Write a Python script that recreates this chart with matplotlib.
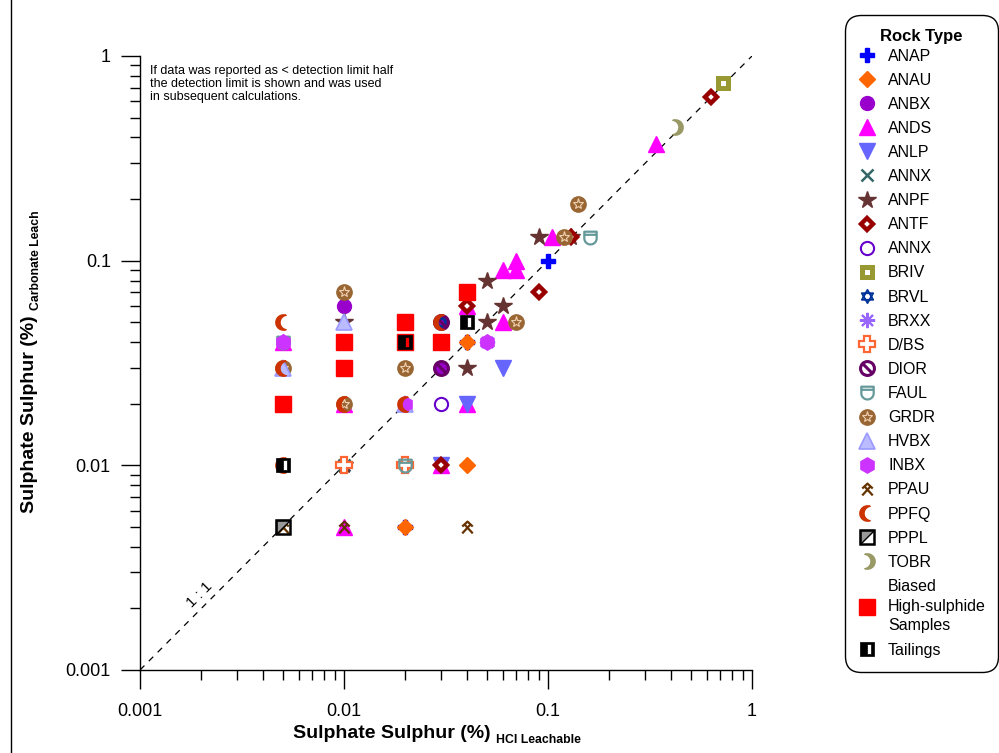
import matplotlib
matplotlib.use("Agg")
import matplotlib.pyplot as plt
import numpy as np
from matplotlib.path import Path
from matplotlib.lines import Line2D
from matplotlib.legend_handler import HandlerTuple
from matplotlib.ticker import FixedLocator, FuncFormatter, NullFormatter

plt.rcParams['font.family'] = ['Liberation Sans', 'DejaVu Sans']

# ---- data: sulphate S, HCl leachable (x) vs carbonate leach (y), in % ----
rock_types = ["ANAP", "ANAU", "ANBX", "ANDS", "ANLP", "ANNX", "ANPF", "ANTF",
              "ANNX", "BRIV", "BRVL", "BRXX", "D/BS", "DIOR", "FAUL", "GRDR",
              "HVBX", "INBX", "PPAU", "PPFQ", "PPPL", "TOBR",
              "Biased\nHigh-sulphide\nSamples", "Tailings"]

anap_x = [0.1, 0.03, 0.04, 0.02]
anap_y = [0.1, 0.05, 0.04, 0.005]
anau_x = [0.04, 0.04, 0.02]
anau_y = [0.04, 0.01, 0.005]
anbx_x = [0.01, 0.03, 0.03]
anbx_y = [0.06, 0.03, 0.05]
ands_x = [0.34, 0.105, 0.07, 0.07, 0.06, 0.06, 0.04, 0.005, 0.01, 0.04, 0.03, 0.01]
ands_y = [0.37, 0.13, 0.1, 0.09, 0.09, 0.05, 0.06, 0.04, 0.02, 0.02, 0.01, 0.005]
anlp_x = [0.06, 0.04, 0.03]
anlp_y = [0.03, 0.02, 0.01]
annx_x = [0.01]
annx_y = [0.01]
anpf_x = [0.09, 0.05, 0.06, 0.05, 0.04, 0.01, 0.13, 0.01]
anpf_y = [0.13, 0.08, 0.06, 0.05, 0.03, 0.05, 0.13, 0.01]
antf_x = [0.63, 0.09, 0.04, 0.03, 0.13]
antf_y = [0.63, 0.07, 0.06, 0.01, 0.13]
annx2_x = [0.03]
annx2_y = [0.02]
briv_x = [0.72]
briv_y = [0.74]
brvl_x = [0.03]
brvl_y = [0.05]
brxx_x = [0.05]
brxx_y = [0.04]
dbs_x = [0.01, 0.02]
dbs_y = [0.01, 0.01]
dior_x = [0.03, 0.03]
dior_y = [0.03, 0.05]
faul_x = [0.16, 0.005, 0.02]
faul_y = [0.13, 0.04, 0.01]
grdr_x = [0.14, 0.12, 0.07, 0.01, 0.02, 0.005, 0.01]
grdr_y = [0.19, 0.13, 0.05, 0.07, 0.03, 0.03, 0.02]
hvbx_x = [0.01, 0.005, 0.02]
hvbx_y = [0.05, 0.03, 0.02]
inbx_x = [0.05, 0.005, 0.02]
inbx_y = [0.04, 0.04, 0.02]
ppau_x = [0.005, 0.01, 0.04]
ppau_y = [0.005, 0.005, 0.005]
ppfq_x = [0.005, 0.005, 0.01, 0.02, 0.005, 0.03]
ppfq_y = [0.05, 0.03, 0.02, 0.02, 0.01, 0.05]
pppl_x = [0.005]
pppl_y = [0.005]
tobr_x = [0.42]
tobr_y = [0.45]
biased_x = [0.04, 0.02, 0.01, 0.03, 0.02, 0.01, 0.005]
biased_y = [0.07, 0.05, 0.04, 0.04, 0.04, 0.03, 0.02]
tail_x = [0.04, 0.02, 0.005]
tail_y = [0.05, 0.04, 0.01]

series = [(anap_x, anap_y), (anau_x, anau_y), (anbx_x, anbx_y), (ands_x, ands_y),
          (anlp_x, anlp_y), (annx_x, annx_y), (anpf_x, anpf_y), (antf_x, antf_y),
          (annx2_x, annx2_y), (briv_x, briv_y), (brvl_x, brvl_y), (brxx_x, brxx_y),
          (dbs_x, dbs_y), (dior_x, dior_y), (faul_x, faul_y), (grdr_x, grdr_y),
          (hvbx_x, hvbx_y), (inbx_x, inbx_y), (ppau_x, ppau_y), (ppfq_x, ppfq_y),
          (pppl_x, pppl_y), (tobr_x, tobr_y), (biased_x, biased_y), (tail_x, tail_y)]


# ---- custom marker shapes ----
def crescent(flip=False):
    a = np.radians(np.linspace(70, 290, 30))
    outer = np.column_stack([np.cos(a), np.sin(a)])
    b = np.radians(np.linspace(260.5, 99.5, 30))
    inner = np.column_stack([0.5 + 0.953 * np.cos(b), 0.953 * np.sin(b)])
    v = np.vstack([outer, inner, outer[:1]])
    if flip:
        v[:, 0] *= -1
    return Path(v, closed=True)


def shield():
    a = np.radians(np.linspace(180, 360, 20))
    bottom = np.column_stack([0.8 * np.cos(a), -0.1 + 0.8 * np.sin(a)])
    v = np.vstack([[[-0.8, 0.75]], bottom, [[0.8, 0.75]], [[-0.8, 0.75]]])
    body = Path(v, closed=True)
    bar = Path([[-0.8, 0.35], [0.8, 0.35]])
    return Path.make_compound_path(body, bar)


def no_sign():
    return Path.make_compound_path(Path.circle((0, 0), 0.85),
                                   Path([[-0.6, 0.6], [0.6, -0.6]]))


def star_of_david():
    a1 = np.radians([90, 210, 330, 90])
    a2 = np.radians([270, 30, 150, 270])
    t1 = Path(np.column_stack([np.cos(a1), np.sin(a1)]), closed=True)
    t2 = Path(np.column_stack([np.cos(a2), np.sin(a2)]), closed=True)
    return Path.make_compound_path(t1, t2)


def pick():
    codes = [Path.MOVETO, Path.LINETO, Path.LINETO,
             Path.MOVETO, Path.LINETO, Path.MOVETO, Path.LINETO]
    v = [[-0.8, 0.15], [0, 0.9], [0.8, 0.15],
         [-0.8, -0.9], [0.35, 0.35], [0.8, -0.9], [-0.35, 0.35]]
    return Path(v, codes)


def tailings_box():
    v = [[-1, -1], [1, -1], [1, 1], [-1, 1], [-1, -1],
         [0.0, -0.65], [0.0, 0.65], [0.6, 0.65], [0.6, -0.65], [0.0, -0.65]]
    codes = [Path.MOVETO, Path.LINETO, Path.LINETO, Path.LINETO, Path.CLOSEPOLY] * 2
    return Path(v, codes)


half_tri = Path([[-1, -1], [-1, 1], [1, 1], [-1, -1]], closed=True)

ms = 10
styles = [
    [dict(marker='P', ms=ms, color='#0000FF', mec='#0000FF')],
    [dict(marker='D', ms=ms - 1.5, color='#FF6600', mec='#FF6600')],
    [dict(marker='o', ms=ms, color='#9900CC', mec='#9900CC')],
    [dict(marker='^', ms=ms + 1, color='#FF00FF', mec='#FF00FF')],
    [dict(marker='v', ms=ms + 1, color='#6666FF', mec='#6666FF')],
    [dict(marker='x', ms=ms - 1.5, color='#336666', mew=1.8)],
    [dict(marker='*', ms=ms + 3, color='#663333', mec='#663333')],
    [dict(marker='D', ms=ms - 3.5, mfc='white', mec='#990000', mew=3.2)],
    [dict(marker='o', ms=ms - 0.5, mfc='none', mec='#6600CC', mew=1.5)],
    [dict(marker='s', ms=ms - 2.5, mfc='white', mec='#999933', mew=3.6)],
    [dict(marker=star_of_david(), ms=ms - 0.5, mfc='none', mec='#003399', mew=1.3)],
    [dict(marker=(8, 2, 0), ms=ms + 1, color='#9966FF', mew=1.5)],
    [dict(marker='P', ms=ms + 1, mfc='white', mec='#FF6633', mew=1.6)],
    [dict(marker=no_sign(), ms=ms, mfc='none', mec='#660066', mew=2.2)],
    [dict(marker=shield(), ms=ms, mfc='none', mec='#669999', mew=1.6)],
    [dict(marker='o', ms=ms + 1, color='#996633', mec='#996633'),
     dict(marker='*', ms=ms - 2, mfc='none', mec='#F0D0B0', mew=0.8)],
    [dict(marker='^', ms=ms + 1, mfc='#BBBBFF', mec='#9999FF', mew=1.2)],
    [dict(marker='h', ms=ms + 1, color='#CC33FF', mec='#CC33FF')],
    [dict(marker=pick(), ms=ms - 1.5, mfc='none', mec='#663300', mew=1.6)],
    [dict(marker=crescent(), ms=ms + 1, color='#CC3300', mec='#CC3300')],
    [dict(marker=half_tri, ms=ms - 0.5, mfc='#999999', mec='black', mew=1),
     dict(marker='s', ms=ms - 0.5, mfc='none', mec='black', mew=1.8)],
    [dict(marker=crescent(flip=True), ms=ms + 1, color='#999966', mec='#999966')],
    [dict(marker='s', ms=11.5, color='#FF0000', mec='#FF0000')],
    [dict(marker=tailings_box(), ms=ms + 0.5, color='black', mec='black', mew=0.5)],
]

fig = plt.figure(figsize=(9.99, 7.53), dpi=100)
ax = fig.add_axes([140 / 999, 1 - 670 / 753, 612 / 999, 614 / 753])
ax.set_xscale('log')
ax.set_yscale('log')
ax.set_xlim(0.001, 1)
ax.set_ylim(0.001, 1)

ax.plot([0.001, 1], [0.001, 1], color='black', lw=0.9, dashes=(5, 5), zorder=1)

handles = []
for (xs, ys), layers in zip(series, styles):
    hs = []
    for lay in layers:
        ax.plot(xs, ys, ls='none', zorder=3, clip_on=False, **lay)
        hs.append(Line2D([], [], ls='none', **lay))
    handles.append(tuple(hs))

for s in ['top', 'right']:
    ax.spines[s].set_visible(False)
for s in ['left', 'bottom']:
    ax.spines[s].set_linewidth(1)

majors = [0.001, 0.01, 0.1, 1]
minors = [m * d for d in [0.001, 0.01, 0.1] for m in range(2, 10)]
for axis in [ax.xaxis, ax.yaxis]:
    axis.set_major_locator(FixedLocator(majors))
    axis.set_minor_locator(FixedLocator(minors))
    axis.set_major_formatter(FuncFormatter(lambda v, p: '%g' % v))
    axis.set_minor_formatter(NullFormatter())
ax.tick_params(which='major', direction='out', length=14, width=1, labelsize=13)
ax.tick_params(which='minor', direction='out', length=7, width=1)
ax.tick_params(axis='x', which='major', pad=10)
ax.tick_params(axis='y', which='major', pad=7)

# axis titles with smaller subscript part
xl = fig.text(293 / 999, 1 - 734 / 753, 'Sulphate Sulphur (%)', fontsize=14,
              weight='bold', ha='left', va='center')
ax.annotate('HCl Leachable', xy=(1, 0), xycoords=xl, xytext=(4, -2.5),
            textcoords='offset points', fontsize=8.8, weight='bold',
            ha='left', va='bottom')
yl = fig.text(30 / 999, 1 - 414 / 753, 'Sulphate Sulphur (%)', fontsize=14,
              weight='bold', ha='center', va='center', rotation=90)
ax.annotate('Carbonate Leach', xy=(1, 1), xycoords=yl, xytext=(2.5, 4),
            textcoords='offset points', fontsize=8.8, weight='bold',
            ha='right', va='bottom', rotation=90)

ax.text(0.016, 0.985, 'If data was reported as < detection limit half\n'
        'the detection limit is shown and was used\nin subsequent calculations.',
        transform=ax.transAxes, fontsize=9, va='top', ha='left', linespacing=1.1)
ax.text(0.00195, 0.00232, '1 : 1', rotation=45, fontsize=11,
        ha='center', va='center')

leg = fig.legend(handles, rock_types, loc='upper left',
                 bbox_to_anchor=(845 / 999, 1 - 15 / 753, 153 / 999, 0.0),
                 mode='expand', title='Rock Type',
                 title_fontproperties={'weight': 'bold', 'size': 12},
                 fontsize=11.5, frameon=True, fancybox=True,
                 handler_map={tuple: HandlerTuple(ndivide=1, pad=0)},
                 handlelength=1.0, handletextpad=0.8, labelspacing=0.57,
                 borderpad=0.9, borderaxespad=0, numpoints=1)
leg._legend_box.sep = 3
leg.get_texts()[-2].set_linespacing(1.4)
frame = leg.get_frame()
frame.set_edgecolor('black')
frame.set_linewidth(1)
frame.set_alpha(None)
frame.set_boxstyle('round,pad=0,rounding_size=1.0')

fig.add_artist(Line2D([10.5 / 999, 10.5 / 999], [0, 1], transform=fig.transFigure,
                      color='black', lw=1))

fig.savefig('out.png', dpi=100)
